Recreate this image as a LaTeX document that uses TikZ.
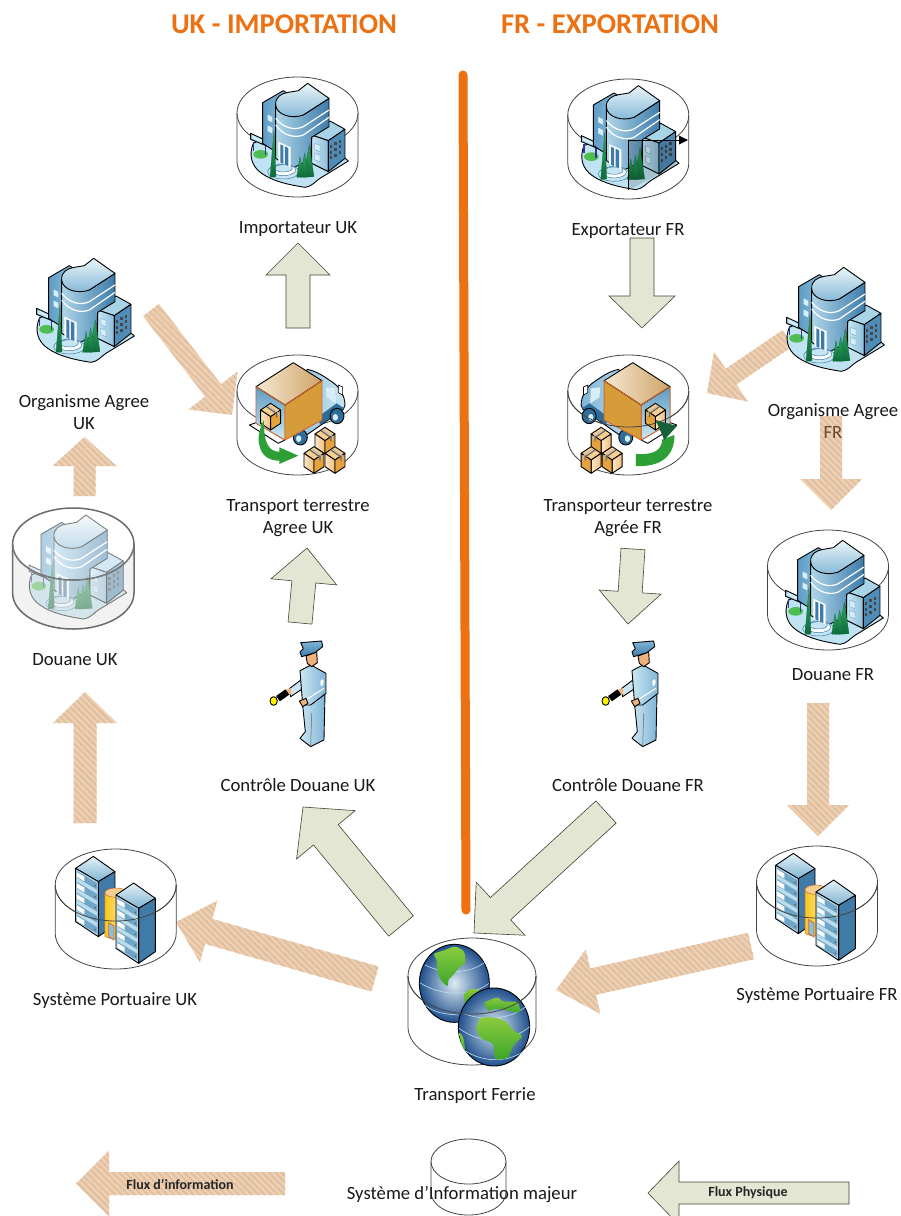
\documentclass[tikz,border=0pt]{standalone}
\usepackage{fontspec}
\setmainfont{Carlito}
\usetikzlibrary{calc,patterns.meta}
\definecolor{orangeline}{HTML}{EC7113}
\definecolor{physfill}{HTML}{E3E6D2}
\definecolor{physedge}{HTML}{3B4A35}
\definecolor{hatchbase}{HTML}{F5CEA9}
\definecolor{hatchline}{HTML}{D6C1AC}
\definecolor{cylline}{HTML}{444444}
\definecolor{frbrown}{HTML}{6B4A2F}
\definecolor{ground}{HTML}{BFE3F2}
\definecolor{wingA}{HTML}{5F9CC6}
\definecolor{wingB}{HTML}{AAD6E9}
\definecolor{rwtop}{HTML}{A8D4E8}
\definecolor{rwA}{HTML}{C6E5F2}
\definecolor{rwB}{HTML}{8DBEDA}
\definecolor{rwface}{HTML}{4F8DB8}
\definecolor{towA}{HTML}{AFD6E9}
\definecolor{towB}{HTML}{3E7BAA}
\definecolor{topA}{HTML}{EAF5F9}
\definecolor{topB}{HTML}{7FB5D5}
\definecolor{deepblue}{HTML}{2F6C97}
\definecolor{paleblue}{HTML}{D8EEF6}
\definecolor{treeA}{HTML}{2FA860}
\definecolor{treeB}{HTML}{0E6B3A}
\definecolor{lawn}{HTML}{4FBE50}
\definecolor{arrowgreen}{HTML}{2E9E37}
\definecolor{arrowdark}{HTML}{176038}
\definecolor{boxface}{HTML}{D79C3A}
\definecolor{boxedge}{HTML}{D2692F}
\definecolor{boxtopA}{HTML}{F7E8D2}
\definecolor{boxtopB}{HTML}{CDA468}
\definecolor{rearA}{HTML}{5E9CC4}
\definecolor{rearB}{HTML}{CBE9F4}
\definecolor{pkgtop}{HTML}{F5CE90}
\definecolor{pkgA}{HTML}{FBE6C8}
\definecolor{pkgB}{HTML}{F0BF7C}
\definecolor{pkgR}{HTML}{E5A33F}
\definecolor{uniA}{HTML}{CBE6F2}
\definecolor{uniB}{HTML}{7FB5D6}
\definecolor{capA}{HTML}{7FB5D8}
\definecolor{capB}{HTML}{3F7FA8}
\definecolor{skin}{HTML}{F0B27D}
\definecolor{racktopA}{HTML}{E3F1F7}
\definecolor{racktopB}{HTML}{7FB3D2}
\definecolor{rackface}{HTML}{3F7BA6}
\definecolor{rackleft}{HTML}{BBDCEB}
\definecolor{rackrow}{HTML}{6FA5C6}
\definecolor{cylY}{HTML}{FBC51A}
\definecolor{cylYb}{HTML}{FFEFA8}
\definecolor{seaA}{HTML}{DCECF4}
\definecolor{seaB}{HTML}{1F4F8C}
\definecolor{landA}{HTML}{8CCB3F}
\definecolor{landB}{HTML}{3AA52A}
\definecolor{gridline}{HTML}{BFE0EE}
\tikzset{
  x=1pt,y=-1pt,
  physarrow/.style={fill=physfill,draw=physedge,line width=.6pt,line join=miter},
  infoarrow/.style={preaction={fill=hatchbase},pattern={Lines[angle=-45,distance=4.6pt,line width=1.9pt]},pattern color=hatchline},
  lbl/.style={font=\fontsize{18.7}{22}\selectfont,align=center,text=black!90,inner sep=0pt},
  ttl/.style={font=\fontsize{28.6}{32}\selectfont\bfseries,text=orangeline,inner sep=0pt},
  keytext/.style={font=\fontsize{14}{16}\selectfont\bfseries,text=black!85,inner sep=0pt},
  ol/.style={draw=black,line width=.9pt,line join=round},
  cylstroke/.style={draw=cylline,line width=.8pt},
  land/.style={top color=landA,bottom color=landB,rounded corners=3pt},
}
% block arrow between two named coordinates: style, from, to, half shaft, half head, head length
\newcommand\blockarrow[6]{%
  \coordinate (ah) at ($(#3)!#6pt!(#2)$);
  \path[#1] ($(#2)!#4pt!90:(#3)$) -- ($(ah)!#4pt!90:(#3)$) -- ($(ah)!#5pt!90:(#3)$) -- (#3)
    -- ($(ah)!#5pt!-90:(#3)$) -- ($(ah)!#4pt!-90:(#3)$) -- ($(#2)!#4pt!-90:(#3)$) -- cycle;
}
% cylinder outline: cx, top, rx, ry, height
\newcommand\cylout[5]{%
  \pgfmathsetmacro\cyld{(#5-2*#4)/#4}
  \begin{scope}[shift={(#1,#2+#4)},x=#3pt,y=-#4pt]
    \draw[cylstroke] (-1,0) .. controls (-1,-.5523) and (-.5523,-1) .. (0,-1) .. controls (.5523,-1) and (1,-.5523) .. (1,0)
      .. controls (1,.5523) and (.5523,1) .. (0,1) .. controls (-.5523,1) and (-1,.5523) .. (-1,0) -- cycle;
    \draw[cylstroke] (-1,0) -- (-1,\cyld) .. controls (-1,\cyld+.5523) and (-.5523,\cyld+1) .. (0,\cyld+1)
      .. controls (.5523,\cyld+1) and (1,\cyld+.5523) .. (1,\cyld) -- (1,0);
  \end{scope}}
\newcommand\cylfront[4]{%
  \begin{scope}[shift={(#1,#2+#4)},x=#3pt,y=-#4pt]
    \draw[cylstroke] (-1,0) .. controls (-1,.5523) and (-.5523,1) .. (0,1) .. controls (.5523,1) and (1,.5523) .. (1,0);
  \end{scope}}
\newcommand\building[2]{%
  \begin{scope}[shift={(#1,#2)},scale=.3333]
    % ground
    \path[ol,fill=ground] (100,250) .. controls (85,285) and (95,320) .. (125,340) .. controls (160,365) and (210,375) .. (255,382)
      .. controls (275,380) and (285,365) .. (300,355) -- (385,303) -- (370,290) -- (200,200) -- cycle;
    \path[fill=lawn] (122,283) ellipse [x radius=22,y radius=13];
    \draw[blue!50!black!80,line width=1.3pt] (100,245) -- (100,272) (136,258) -- (136,286);
    \path[ol,fill=wingB] (92,220) -- (150,247) -- (150,262) -- (92,238) -- cycle;
    \path[fill=paleblue] (97,226) -- (145,249) -- (145,256) -- (97,234) -- cycle;
    % left wing
    \path[ol,left color=wingA,right color=wingB] (128,128) -- (190,92) -- (250,130) -- (250,250) -- (190,290) -- (128,250) -- cycle;
    \foreach \yy in {162,195}{\path[draw=wingA,fill=paleblue,line width=.3pt] (142,\yy) -- (158,\yy+8) -- (158,\yy+27) -- (142,\yy+19) -- cycle;}
    % right wing
    \path[ol,fill=rwtop] (275,225) -- (330,183) -- (375,208) -- (325,242) -- cycle;
    \path[ol,left color=rwA,right color=rwB] (275,225) -- (325,242) -- (325,335) -- (275,310) -- cycle;
    \path[ol,fill=rwface] (325,242) -- (375,208) -- (375,295) -- (325,335) -- cycle;
    \foreach \a in {0,1,2}{\foreach \b in {0,1,2}{
      \path[fill=black!72] (330+\a*13,255-\a*8+\b*17) rectangle +(7,9);}}
    \foreach \yy in {250,280}{\path[draw=wingA,fill=paleblue,line width=.3pt] (284,\yy) -- (300,\yy+6) -- (300,\yy+25) -- (284,\yy+19) -- cycle;}
    % tower
    \path[ol,left color=towA,right color=towB] (167,135) -- (167,295) -- (215,325) -- (272,300) -- (275,232) -- (327,200) -- (327,115) -- (250,165) -- cycle;
    \path[ol,top color=topA,bottom color=topB] (167,135) .. controls (165,110) and (185,100) .. (205,97) -- (235,92) -- (263,70) -- (327,115) -- (250,165) .. controls (215,178) and (170,165) .. (167,135) -- cycle;
    \draw[white,line width=1.2pt] (167,175) .. controls (190,205) and (225,212) .. (250,200) -- (327,150);
    \draw[white,line width=1.2pt] (167,195) .. controls (190,228) and (225,235) .. (250,225) -- (327,172);
    % steps
    \path[draw=towB,fill=rwA,line width=.5pt] (190,335) ellipse [x radius=47,y radius=22];
    \path[draw=towB,fill=white,line width=.5pt] (190,330) ellipse [x radius=37,y radius=17];
    \path[draw=towB,fill=rwA,line width=.5pt] (190,325) ellipse [x radius=27,y radius=11];
    % door
    \path[fill=white] (175,245) -- (212,262) -- (212,322) -- (175,305) -- cycle;
    \path[fill=towB] (181,253) -- (190,257) -- (190,312) -- (181,307) -- cycle;
    \path[fill=towB] (195,259) -- (205,264) -- (205,318) -- (195,314) -- cycle;
    % trees
    \foreach \p/\q/\r/\s in {162/210/150/168,240/290/230/252,268/255/250/282,254/280/240/268}{
      \path[draw=treeB,line width=.25pt,top color=treeA,bottom color=treeB] (\p,\q) -- (\r,352) -- (\s,350) -- cycle;}
  \end{scope}}
\newcommand\pkg[3]{%
  \begin{scope}[shift={(#1,#2)},scale=#3]
    \path[ol,fill=pkgtop] (0,0) -- (30,20) -- (0,40) -- (-30,20) -- cycle;
    \path[ol,left color=pkgA,right color=pkgB] (-30,20) -- (0,40) -- (0,80) -- (-30,60) -- cycle;
    \path[ol,fill=pkgR] (30,20) -- (0,40) -- (0,80) -- (30,60) -- cycle;
    \draw[black!60,line width=1.2pt] (-12,10) -- (18,31) -- (18,42);
    \draw[black!25,line width=1pt] (-7,7) -- (23,28) -- (23,38);
  \end{scope}}
\newcommand\truckbody{%
  % cab
  \path[ol,left color=uniB,right color=uniA] (262,88) .. controls (295,95) and (320,115) .. (335,125) .. controls (360,140) and (375,170) .. (375,195) -- (370,208) -- (260,285) -- (190,250) -- cycle;
  \path[fill=deepblue] (300,255) -- (372,205) -- (350,190) -- (295,230) -- cycle;
  \path[fill=paleblue] (318,142) -- (345,145) -- (348,190) -- (320,172) -- cycle;
  \path[ol,fill=white,line width=.6pt] (355,135) -- (368,141) -- (368,165) -- (355,158) -- cycle;
  % wheels
  \path[ol,fill=deepblue] (351,228) ellipse [x radius=21,y radius=23];
  \path[fill=paleblue] (346,232) ellipse [x radius=8,y radius=10];
  \path[ol,fill=deepblue] (241,292) ellipse [x radius=21,y radius=23];
  \path[fill=paleblue] (236,296) ellipse [x radius=8,y radius=10];
  % ramp
  \path[ol,fill=white] (88,255) -- (108,248) -- (195,300) -- (175,310) -- cycle;
  % open rear
  \path[draw=boxedge,line width=.9pt,line join=round,top color=rearA,bottom color=rearB] (108,140) -- (195,195) -- (195,300) -- (108,250) -- cycle;
  % box
  \path[draw=boxedge,line width=.9pt,line join=round,fill=boxface] (195,195) -- (306,122) -- (306,240) -- (195,300) -- cycle;
  \path[ol,left color=boxtopA,right color=boxtopB] (108,140) -- (220,68) -- (306,122) -- (195,195) -- cycle;
  \draw[boxedge,line width=.9pt] (108,140) -- (195,195) -- (306,122);
  \pkg{152}{190}{1}
  \pkg{315}{262}{1}
  \pkg{282}{320}{1}
  \pkg{345}{320}{1}
}
\newcommand\officer[2]{%
  \begin{scope}[shift={(#1,#2)},scale=.3333]
    % far arm + flashlight
    \path[ol,fill=uniA] (118,176) -- (158,146) -- (164,172) -- (122,200) -- cycle;
    \path[fill=skin] (106,180) -- (122,174) -- (124,192) -- (110,198) -- cycle;
    \path[draw=black,line width=6.5pt] (112,186) -- (84,206);
    \path[ol,fill=yellow] (71,213) ellipse [x radius=11,y radius=13];
    % legs
    \path[ol,left color=uniA,right color=uniB] (158,225) -- (225,190) -- (222,330) -- (182,350) -- (150,325) -- (166,305) -- cycle;
    \draw[black!60,line width=.5pt] (185,250) -- (182,350);
    % torso
    \path[ol,left color=uniA,right color=uniB] (150,122) -- (183,105) -- (228,130) -- (228,190) -- (182,225) -- (158,225) -- cycle;
    \path[fill=white] (213,150) .. controls (222,142) and (224,160) .. (216,168) .. controls (210,170) and (210,155) .. (213,150) -- cycle;
    \draw[white,line width=1pt] (170,208) -- (222,175);
    \path[ol,fill=skin] (148,213) -- (168,205) -- (174,220) -- (158,230) -- cycle;
    % head and cap
    \path[ol,fill=skin] (168,78) -- (200,66) -- (202,98) -- (185,110) -- (172,100) -- cycle;
    \path[ol,top color=capA,bottom color=capB] (152,38) -- (215,33) -- (218,50) -- (195,68) -- (155,80) -- (150,66) -- (160,56) -- cycle;
  \end{scope}}
\newcommand\rack[2]{%
  \begin{scope}[shift={(#1,#2)}]
    \path[ol,top color=racktopA,bottom color=racktopB] (0,0) -- (53,-36) -- (118,10) -- (68,40) -- cycle;
    \path[ol,fill=rackface] (68,40) -- (118,10) -- (118,170) -- (68,205) -- cycle;
    \path[ol,fill=rackleft] (0,0) -- (68,40) -- (68,205) -- (0,160) -- cycle;
    \foreach \i in {0,...,4}{
      \path[fill=rackrow] (4,8+33*\i) -- (64,44+33*\i) -- (64,64+33*\i) -- (4,28+33*\i) -- cycle;
      \path[fill=white] (4,12+33*\i) -- (26,25+33*\i) -- (26,39+33*\i) -- (4,26+33*\i) -- cycle;
      \path[fill=black!65] (58,52+33*\i) circle [radius=2.5];
    }
  \end{scope}}
\newcommand\servers[2]{%
  \begin{scope}[shift={(#1,#2)},scale=.3333]
    \rack{107}{85}
    \path[draw=boxedge,line width=.5pt,left color=cylY,right color=cylYb] (195,158) -- (195,288) .. controls (210,300) and (245,300) .. (260,288) -- (260,158) .. controls (245,172) and (210,172) .. (195,158) -- cycle;
    \path[draw=boxedge,line width=.5pt,fill=pkgtop] (228,158) ellipse [x radius=33,y radius=14];
    \path[draw=boxedge,line width=.8pt,fill=rwB] (206,248) -- (222,258) -- (222,300) -- (206,290) -- cycle;
    \rack{228}{165}
  \end{scope}}
\begin{document}
\begin{tikzpicture}
\useasboundingbox (0,0) rectangle (900,1216);
\fill[white] (0,0) rectangle (900,1216);

% --- named end points of the block arrows
\coordinate (a1s) at (298,328); \coordinate (a1t) at (298,243);
\coordinate (a2s) at (642,238); \coordinate (a2t) at (642,328);
\coordinate (a3s) at (300,623); \coordinate (a3t) at (307,548);
\coordinate (a4s) at (633,549); \coordinate (a4t) at (628,624);
\coordinate (a5s) at (401,926); \coordinate (a5t) at (303,807);
\coordinate (a6s) at (606,812); \coordinate (a6t) at (474,933);
\coordinate (i1s) at (151,310); \coordinate (i1t) at (232,415);
\coordinate (i2s) at (84.5,496); \coordinate (i2t) at (84.5,437);
\coordinate (i3s) at (85,823); \coordinate (i3t) at (85,692);
\coordinate (i4s) at (375,979); \coordinate (i4t) at (176,922);
\coordinate (i5s) at (751,946); \coordinate (i5t) at (556,990);
\coordinate (i6s) at (788,338); \coordinate (i6t) at (707,393);
\coordinate (i7s) at (831,416); \coordinate (i7t) at (831,510);
\coordinate (i8s) at (818,703); \coordinate (i8t) at (818,836);
\coordinate (k1s) at (285,1183.5); \coordinate (k1t) at (76,1183.5);
\coordinate (k2s) at (849,1193); \coordinate (k2t) at (648,1193);

% --- separator
\draw[orangeline,line width=9pt,line cap=round] (463,75) -- (466,910);

% --- block arrows
\blockarrow{physarrow}{a1s}{a1t}{12}{32}{32}
\blockarrow{physarrow}{a2s}{a2t}{12}{33}{32}
\blockarrow{physarrow}{a3s}{a3t}{12}{33}{34}
\blockarrow{physarrow}{a4s}{a4t}{12}{31}{32}
\blockarrow{physarrow}{a5s}{a5t}{16}{38}{36}
\blockarrow{physarrow}{a6s}{a6t}{15}{36}{36}
\blockarrow{infoarrow}{i1s}{i1t}{10}{31}{31}
\blockarrow{infoarrow}{i2s}{i2t}{11}{32}{29}
\blockarrow{infoarrow}{i3s}{i3t}{11.5}{32}{31}
\blockarrow{infoarrow}{i4s}{i4t}{13}{32}{34}
\blockarrow{infoarrow}{i5s}{i5t}{13.5}{33}{38}
\blockarrow{infoarrow}{i6s}{i6t}{9.5}{30}{29}
\blockarrow{infoarrow}{i7s}{i7t}{11}{31}{31}
\blockarrow{infoarrow}{i8s}{i8t}{11}{31}{31}
\blockarrow{infoarrow}{k1s}{k1t}{11.5}{33}{33}
\blockarrow{physarrow}{k2s}{k2t}{11}{32}{31}

% --- importateur
\cylout{297.5}{77}{60.5}{36}{120}
\building{220}{60}
% --- exportateur
\cylout{628.3}{79}{60.5}{36}{120}
\building{550.7}{62.3}
\path[fill=black,fill opacity=.14] (628.3,140) -- (676,140) -- (676,166) -- (628.3,190) -- cycle;
\draw[black,line width=.7pt] (628.3,190) -- (628.3,140) -- (680,140);
\fill[black] (688,140) -- (679,135.5) -- (679,144.5) -- cycle;
% --- organismes
\building{6}{235}
\building{756}{244}
% --- douane UK
\building{-1.7}{491.7}
\begin{scope}
  \path[fill=white,fill opacity=.5] (12.7,544) .. controls (12.7,524) and (40,508) .. (73.3,508) .. controls (107,508) and (134,524) .. (134,544) -- (134,593) .. controls (134,613) and (107,629) .. (73.3,629) .. controls (40,629) and (12.7,613) .. (12.7,593) -- cycle;
  \path[fill=black,fill opacity=.05] (12.7,544) .. controls (12.7,564) and (40,580) .. (73.3,580) .. controls (107,580) and (134,564) .. (134,544) -- (134,593) .. controls (134,613) and (107,629) .. (73.3,629) .. controls (40,629) and (12.7,613) .. (12.7,593) -- cycle;
\end{scope}
\tikzset{cylstroke/.style={draw=black!58,line width=1.5pt}}
\cylout{73.3}{508}{60.7}{36}{121}
\tikzset{cylstroke/.style={draw=black!50,line width=.6pt}}
\cylfront{73.3}{508}{60.7}{36}
\tikzset{cylstroke/.style={draw=cylline,line width=.8pt}}
% --- douane FR
\cylout{828}{530}{60.5}{36}{120}
\building{755}{517}
% --- trucks
\cylout{297.5}{355}{60.5}{36}{120}
\begin{scope}[shift={(220,340)},scale=.3333]
  \truckbody
  \path[fill=arrowgreen] (132,240) .. controls (118,265) and (112,295) .. (118,315) .. controls (125,350) and (150,362) .. (178,362) -- (178,372) -- (235,347) -- (178,322) -- (178,335) .. controls (150,335) and (130,315) .. (132,240) -- cycle;
\end{scope}
\cylout{628.3}{355}{60.5}{36}{120}
\begin{scope}[shift={(706.1,340)},xscale=-.3333,yscale=.3333]
  \truckbody
\end{scope}
\cylfront{628.3}{355}{60.5}{36}
\begin{scope}[shift={(555,340)},scale=.3333]
  \path[fill=arrowgreen] (243,378) -- (243,342) .. controls (290,345) and (320,335) .. (322,298) -- (358,285) .. controls (360,345) and (320,382) .. (243,378) -- cycle;
  \path[fill=arrowdark] (302,240) -- (366,258) -- (328,300) -- cycle;
\end{scope}
% --- officers
\officer{250}{630}
\officer{582}{630}
% --- systemes
\cylout{115.7}{849}{60.5}{36}{120}
\servers{40}{840}
\cylfront{115.7}{849}{60.5}{36}
\cylout{817}{846}{60.5}{36}{120}
\servers{740}{837}
\cylfront{817}{846}{60.5}{36}
% --- ferrie
\cylout{472}{938}{64}{38}{127}
\begin{scope}[shift={(395,930)},scale=.3333]
  \path[ol,inner color=seaA,outer color=seaB] (178,160) ellipse [x radius=105,y radius=117];
  \draw[gridline,line width=.6pt] (90,105) .. controls (150,135) and (230,130) .. (272,95);
  \draw[gridline,line width=.6pt] (74,158) .. controls (140,200) and (230,200) .. (282,160);
  \draw[gridline,line width=.6pt] (90,225) .. controls (120,250) and (150,252) .. (190,255);
  \path[land] (112,72) -- (150,60) -- (180,48) -- (208,62) -- (213,100) -- (195,110) -- (175,135) -- (158,150) -- (160,172) -- (140,155) -- (128,130) -- (125,85) -- cycle;
  \path[land] (205,190) -- (230,175) -- (255,180) -- (250,190) -- (225,210) -- (212,225) -- cycle;
  \path[ol,inner color=seaA,outer color=seaB] (297,291) ellipse [x radius=107,y radius=117];
  \draw[gridline,line width=.6pt] (205,250) .. controls (260,272) and (340,272) .. (392,230);
  \draw[gridline,line width=.6pt] (192,295) .. controls (260,345) and (340,340) .. (405,290);
  \draw[gridline,line width=.6pt] (210,362) .. controls (260,395) and (330,400) .. (385,365);
  \path[land] (243,295) -- (255,262) -- (300,262) -- (335,275) -- (352,300) -- (385,318) -- (355,345) -- (340,385) -- (300,390) -- (295,340) -- (255,325) -- cycle;
  \path[land] (265,218) -- (310,200) -- (320,215) -- (370,215) -- (378,250) -- (330,240) -- (300,235) -- (280,245) -- cycle;
  \path[land] (192,305) -- (205,320) -- (212,368) -- (198,340) -- cycle;
\end{scope}
\cylfront{472}{938}{64}{38}
% --- key cylinder
\cylout{468.5}{1139}{37.5}{22.5}{76}

% --- titles
\node[ttl] (ttluk) at (284,24) {UK - IMPORTATION};
\node[ttl] (ttlfr) at (610,24) {FR - EXPORTATION};
% --- labels
\node[lbl] (limp) at (298,229) {Importateur UK};
\node[lbl] (lexp) at (628,231) {Exportateur FR};
\node[lbl] (lorguk) at (84,412) {Organisme Agree\\UK};
\node[lbl] (lorgfr) at (833,421) {Organisme Agree\\\textcolor{frbrown}{FR}};
\node[lbl] (ltruk) at (298,518) {Transport terrestre\\Agree UK};
\node[lbl] (ltrfr) at (628,518) {Transporteur terrestre\\Agrée FR};
\node[lbl] (lduk) at (75,660) {Douane UK};
\node[lbl] (ldfr) at (833,675) {Douane FR};
\node[lbl] (lcuk) at (298,785) {Contrôle Douane UK};
\node[lbl] (lcfr) at (628,785) {Contrôle Douane FR};
\node[lbl] (lsuk) at (115,1001) {Système Portuaire UK};
\node[lbl] (lsfr) at (817,996) {Système Portuaire FR};
\node[lbl] (lfer) at (475,1096) {Transport Ferrie};
\node[lbl] (lkey) at (462,1194) {Système d’Information majeur};
\node[keytext] (kinfo) at (180,1184) {Flux d’information};
\node[keytext] (kphys) at (748,1193) {Flux Physique};
\end{tikzpicture}
\end{document}
